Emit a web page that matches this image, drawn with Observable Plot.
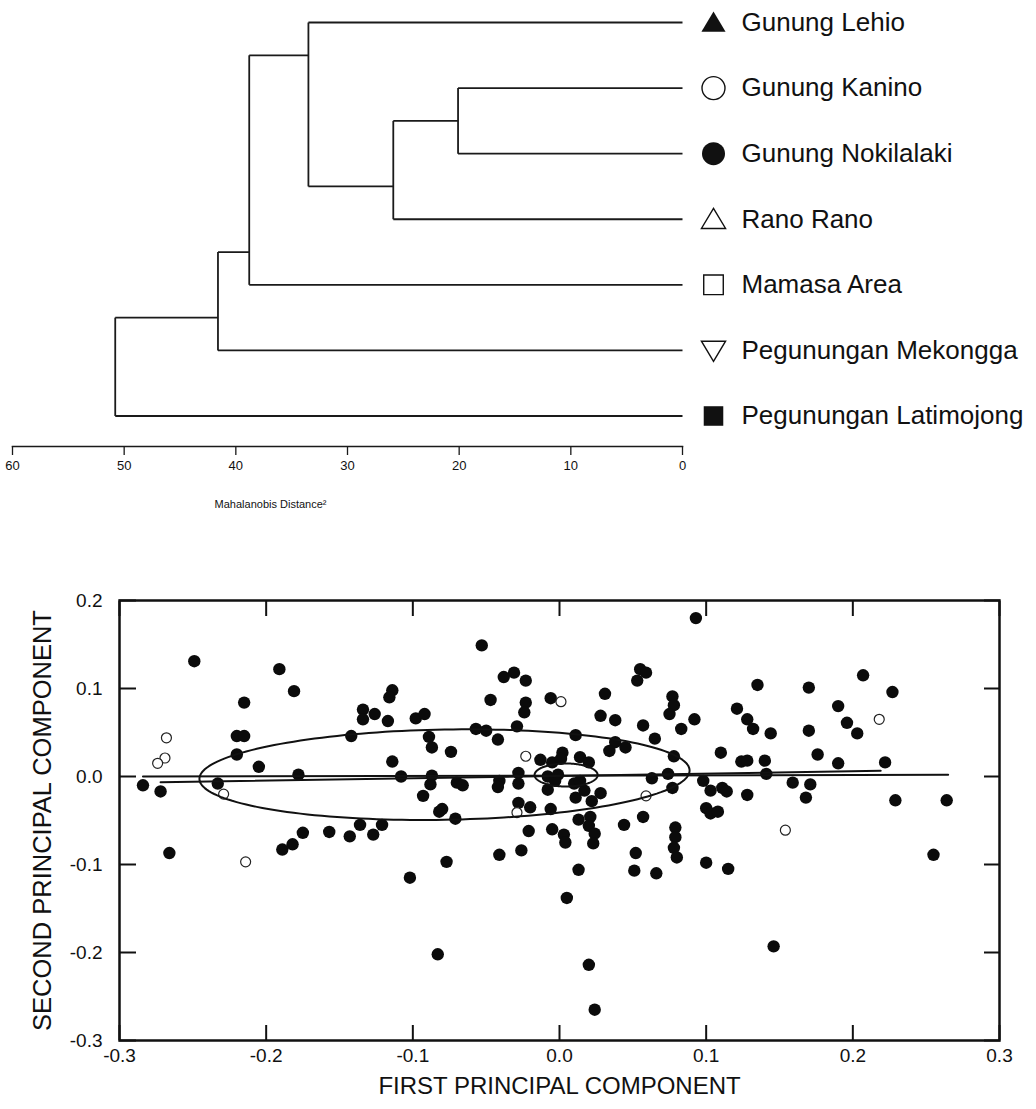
<!DOCTYPE html>
<html><head><meta charset="utf-8">
<script src="https://cdn.jsdelivr.net/npm/d3@7"></script>
<script src="https://cdn.jsdelivr.net/npm/@observablehq/plot@0.6"></script>
<style>
body{margin:0;background:#fff;}
#wrap{width:1036px;height:1109px;overflow:hidden;background:#fff;}
#wrap svg{display:block;overflow:visible;}
</style></head><body>
<div id="wrap"><div id="dendro"></div><div id="scatter"></div></div>
<script>
// ---------- Dendrogram data ----------
const leafNames = ["Gunung Lehio","Gunung Kanino","Gunung Nokilalaki","Rano Rano","Mamasa Area","Pegunungan Mekongga","Pegunungan Latimojong"];
const leafSymbols = ["triangleFilled","circleOpen","circleFilled","triangleOpen","squareOpen","triangleDownOpen","squareFilled"];
const mergePairs = [[1,2],[7,3],[0,8],[9,4],[10,5],[11,6]];
const mergeHeights = [20.1, 25.9, 33.5, 38.8, 41.6, 50.8];
const distanceTicks = [60,50,40,30,20,10,0];

// ---------- PCA scatter data ----------
const nokilalakiPoints = [
[-0.249,0.131],[-0.191,0.122],[-0.181,0.097],[-0.215,0.084],[-0.220,0.046],[-0.215,0.046],[-0.142,0.046],
[-0.134,0.076],[-0.126,0.071],[-0.134,0.065],[-0.117,0.063],[-0.114,0.098],[-0.116,0.090],[-0.220,0.025],
[-0.205,0.011],[-0.114,0.017],[-0.178,0.002],[-0.284,-0.010],[-0.272,-0.017],[-0.233,-0.008],
[-0.053,0.149],[-0.038,0.113],[-0.031,0.118],[-0.023,0.109],[-0.047,0.087],[-0.023,0.084],[-0.024,0.073],
[-0.006,0.089],[0.031,0.094],[0.028,0.069],[0.038,0.064],[0.055,0.122],[0.059,0.118],[0.053,0.109],
[0.077,0.091],[0.078,0.081],[0.075,0.071],[0.057,0.058],[0.065,0.043],[-0.098,0.066],[-0.092,0.071],
[-0.057,0.054],[-0.050,0.052],[-0.042,0.042],[-0.029,0.057],[-0.089,0.045],[-0.087,0.033],[-0.074,0.028],
[0.011,0.047],[0.038,0.039],[0.045,0.033],[0.034,0.029],[0.078,0.023],[-0.013,0.019],[-0.005,0.016],
[0.002,0.027],[0.001,0.020],[0.014,0.022],[0.020,0.016],[-0.108,0.000],[-0.087,0.001],[-0.088,-0.009],
[-0.070,-0.007],[-0.066,-0.010],[-0.041,-0.005],[-0.042,-0.012],[-0.028,0.004],[-0.028,-0.008],
[-0.008,0.000],[-0.001,0.002],[-0.003,-0.005],[-0.008,-0.015],[0.010,-0.008],[0.014,-0.005],[0.017,-0.016],
[0.011,-0.024],[0.022,-0.028],[0.028,-0.019],[0.063,-0.002],[0.074,0.003],[0.077,-0.013],[-0.093,-0.022],
[-0.028,-0.030],[-0.020,-0.035],[-0.006,-0.037],[-0.082,-0.040],[-0.080,-0.037],[-0.071,-0.048],
[0.013,-0.049],[0.021,-0.046],[0.057,-0.046],[0.093,0.180],[0.135,0.104],[0.170,0.101],[0.207,0.115],
[0.227,0.096],[0.092,0.065],[0.083,0.054],[0.121,0.077],[0.128,0.065],[0.132,0.054],[0.144,0.049],
[0.170,0.052],[0.190,0.080],[0.196,0.061],[0.203,0.049],[0.110,0.027],[0.124,0.017],[0.128,0.018],
[0.140,0.018],[0.176,0.025],[0.190,0.015],[0.222,0.016],[0.141,0.003],[0.098,-0.005],[0.103,-0.016],
[0.111,-0.013],[0.114,-0.017],[0.128,-0.021],[0.159,-0.007],[0.171,-0.009],[0.168,-0.024],[0.229,-0.027],
[0.264,-0.027],[0.100,-0.036],[0.103,-0.042],[0.108,-0.040],[-0.266,-0.087],[-0.189,-0.083],[-0.182,-0.077],
[-0.175,-0.064],[-0.157,-0.063],[-0.143,-0.068],[-0.136,-0.055],[-0.127,-0.066],[-0.121,-0.055],
[-0.021,-0.062],[-0.005,-0.060],[0.003,-0.066],[0.004,-0.075],[0.020,-0.056],[0.024,-0.065],[0.023,-0.076],
[0.044,-0.055],[0.052,-0.087],[0.051,-0.107],[0.066,-0.110],[0.079,-0.058],[0.079,-0.069],[0.078,-0.081],
[0.080,-0.092],[-0.041,-0.089],[-0.026,-0.084],[-0.077,-0.097],[-0.102,-0.115],[0.013,-0.106],[0.005,-0.138],
[-0.083,-0.202],[0.020,-0.214],[0.024,-0.265],[0.100,-0.098],[0.115,-0.105],[0.255,-0.089],[0.146,-0.193]
];
const kaninoPoints = [
[-0.268,0.044],[-0.269,0.021],[-0.274,0.015],[-0.229,-0.020],[0.001,0.085],[-0.023,0.023],
[0.059,-0.022],[-0.029,-0.041],[0.218,0.065],[-0.214,-0.097],[0.154,-0.061]
];
const trendLong = [[-0.284,0.000],[0.265,0.002]];
const trendTilted = [[-0.272,-0.0065],[0.219,0.0065]];
// ellipses: centre x, centre y, semi-axis along PC1, semi-axis along PC2, tilt (slope)
const ellipseLarge = [-0.0784, 0.0021, 0.1671, 0.0513, 0.0283];
const ellipseSmall = [0.0045, 0.0017, 0.0215, 0.0131, 0.0];
const pcTicksX = [-0.3,-0.2,-0.1,0.0,0.1,0.2,0.3];
const pcTicksY = [-0.3,-0.2,-0.1,0.0,0.1,0.2];

const FONT = '"Liberation Sans", Arial, Helvetica, sans-serif';

// ---------- build dendrogram geometry ----------
const nodes = leafNames.map((name,i)=>({name, dist:0, pos:i, lo:i, hi:i}));
const segments = [];
mergePairs.forEach(([a,b],k)=>{
  const A = nodes[a], B = nodes[b];
  const first = A.lo < B.lo ? A : B, second = first === A ? B : A;
  const h = mergeHeights[k];
  segments.push({x1:h, y1:A.pos, x2:h, y2:B.pos});
  segments.push({x1:A.dist, y1:A.pos, x2:h, y2:A.pos});
  segments.push({x1:B.dist, y1:B.pos, x2:h, y2:B.pos});
  nodes.push({dist:h, pos:(first.hi + second.lo)/2, lo:Math.min(A.lo,B.lo), hi:Math.max(A.hi,B.hi)});
});
const leafRows = leafNames.map((name,i)=>({name, dist:0, pos:i, sym:leafSymbols[i]}));

function radiusOf(size){ return Math.sqrt(size/Math.PI); }
const triUp = {draw(c,s){const r=radiusOf(s);c.moveTo(0,-r*0.95);c.lineTo(r*1.05,r*0.8);c.lineTo(-r*1.05,r*0.8);c.closePath();}};
const triDown = {draw(c,s){const r=radiusOf(s);c.moveTo(0,r*0.95);c.lineTo(r*1.05,-r*0.8);c.lineTo(-r*1.05,-r*0.8);c.closePath();}};
const circ = {draw(c,s){const r=radiusOf(s);c.moveTo(r,0);c.arc(0,0,r,0,2*Math.PI);}};
const sq = {draw(c,s){const r=radiusOf(s)*0.85;c.rect(-r,-r,2*r,2*r);}};
const symDefs = {
  triangleFilled:{shape:triUp, fill:"#111", stroke:"none"},
  triangleOpen:{shape:triUp, fill:"white", stroke:"#111"},
  triangleDownOpen:{shape:triDown, fill:"white", stroke:"#111"},
  circleOpen:{shape:circ, fill:"white", stroke:"#111"},
  circleFilled:{shape:circ, fill:"#111", stroke:"none"},
  squareOpen:{shape:sq, fill:"white", stroke:"#111"},
  squareFilled:{shape:sq, fill:"#111", stroke:"none"}
};

const legendMarks = leafRows.map(row => {
  const d = symDefs[row.sym];
  return Plot.dot([row], {x:"dist", y:"pos", dx:31, r:11.5, symbol:d.shape, fill:d.fill, stroke:d.stroke, strokeWidth:1.4});
});

const dendro = Plot.plot({
  width:1036, height:540,
  marginLeft:12, marginRight:354, marginTop:22, marginBottom:94,
  x:{domain:[60,0], axis:null},
  y:{domain:[6,0], insetBottom:30.5, axis:null},
  style:{fontFamily:FONT, background:"white", color:"#111"},
  marks:[
    Plot.link(segments, {x1:"x1", y1:"y1", x2:"x2", y2:"y2", stroke:"#1a1a1a", strokeWidth:1.8}),
    Plot.frame({anchor:"bottom", stroke:"#1a1a1a", strokeWidth:1.5}),
    Plot.axisX({anchor:"bottom", ticks:distanceTicks, tickSize:9, tickPadding:5, fontSize:13, label:null, tickFormat:d=>String(d), stroke:"#1a1a1a", strokeWidth:1.3}),
    ...legendMarks,
    Plot.text(leafRows, {x:"dist", y:"pos", text:"name", dx:59, textAnchor:"start", fontSize:26, fill:"#111"}),
    Plot.text(["Mahalanobis Distance\u00B2"], {frameAnchor:"bottom", dx:-77, dy:58, textAnchor:"middle", lineAnchor:"middle", fontSize:11, fill:"#111"})
  ]
});
document.getElementById("dendro").appendChild(dendro);

// ---------- scatter ----------
function ellipsePoints(e){
  const [cx,cy,a,b,tilt] = e;
  return d3.range(0, 361, 2).map(t => {
    const r = t*Math.PI/180;
    return {x: cx + a*Math.cos(r), y: cy + a*Math.cos(r)*tilt + b*Math.sin(r)};
  });
}
const noTicks = () => "";
const scatter = Plot.plot({
  width:1036, height:569,
  marginLeft:119, marginRight:37, marginTop:60, marginBottom:69,
  x:{domain:[-0.3,0.3]},
  y:{domain:[-0.3,0.2]},
  style:{fontFamily:FONT, background:"white", color:"#111"},
  marks:[
    Plot.dot(nokilalakiPoints, {x:d=>d[0], y:d=>d[1], r:6.2, fill:"#0b0b0b"}),
    Plot.dot(kaninoPoints, {x:d=>d[0], y:d=>d[1], r:5, fill:"white", stroke:"#222", strokeWidth:1.2}),
    Plot.line(ellipsePoints(ellipseLarge), {x:"x", y:"y", stroke:"#111", strokeWidth:2}),
    Plot.line(ellipsePoints(ellipseSmall), {x:"x", y:"y", stroke:"#111", strokeWidth:2}),
    Plot.line(trendLong, {x:d=>d[0], y:d=>d[1], stroke:"#111", strokeWidth:2}),
    Plot.line(trendTilted, {x:d=>d[0], y:d=>d[1], stroke:"#111", strokeWidth:2}),
    Plot.frame({stroke:"#111", strokeWidth:2.5}),
    Plot.axisX({anchor:"bottom", ticks:pcTicksX, tickSize:15, dy:-15, tickFormat:noTicks, label:null, strokeWidth:2}),
    Plot.axisX({anchor:"top", ticks:pcTicksX, tickSize:15, dy:15, tickFormat:noTicks, label:null, strokeWidth:2}),
    Plot.axisY({anchor:"left", ticks:pcTicksY, tickSize:17, dx:17, tickFormat:noTicks, label:null, strokeWidth:2}),
    Plot.axisY({anchor:"right", ticks:pcTicksY, tickSize:16, dx:-16, tickFormat:noTicks, label:null, strokeWidth:2}),
    Plot.axisX({anchor:"bottom", ticks:pcTicksX, tickSize:0, tickPadding:8, tickFormat:d=>d.toFixed(1), fontSize:19, label:null, fill:"#111"}),
    Plot.axisY({anchor:"left", ticks:pcTicksY, tickSize:0, tickPadding:17, tickFormat:d=>d.toFixed(1), fontSize:19, label:null, fill:"#111"}),
    Plot.text(["SECOND PRINCIPAL COMPONENT"], {frameAnchor:"left", dx:-77, rotate:-90, textAnchor:"middle", lineAnchor:"middle", fontSize:25.5, fill:"#111"}),
    Plot.text(["FIRST PRINCIPAL COMPONENT"], {frameAnchor:"bottom", dy:46, textAnchor:"middle", lineAnchor:"middle", fontSize:24, fill:"#111"})
  ]
});
document.getElementById("scatter").appendChild(scatter);
</script>
</body></html>
